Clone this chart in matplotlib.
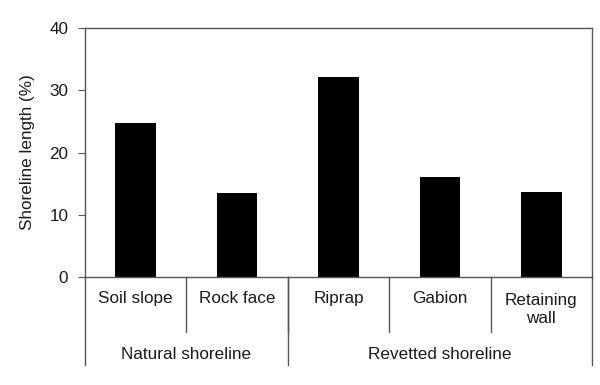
import numpy as np
import matplotlib.pyplot as plt
import matplotlib.transforms as mtransforms

plt.rcParams['font.family'] = ['Liberation Sans', 'DejaVu Sans']

categories = ['Soil slope', 'Rock face', 'Riprap', 'Gabion', 'Retaining\nwall']
values = [24.7, 13.5, 32.1, 16.1, 13.7]
groups = ['Natural shoreline', 'Revetted shoreline']
group_sizes = [2, 3]

edge = '#555555'
txt = '#1a1a1a'
fs = 12.3

fig = plt.figure(figsize=(6, 3.85), dpi=100)
ax = fig.add_axes([0.1417, 0.2805, 0.845, 0.6465])

x = np.arange(len(categories))
ax.bar(x, values, width=0.4, color='black')
ax.set_xlim(-0.5, len(categories) - 0.5)
ax.set_ylim(0, 40)
ax.set_yticks([0, 10, 20, 30, 40])
ax.set_xticks([])
ax.tick_params(axis='y', direction='out', length=5, color=edge, labelsize=fs,
               labelcolor=txt, pad=7)
for s in ax.spines.values():
    s.set_color(edge)
    s.set_linewidth(1.0)
ax.set_ylabel('Shoreline length (%)', fontsize=fs, color=txt, labelpad=10)

trans = mtransforms.blended_transform_factory(ax.transData, ax.transAxes)

# category labels and separators
for i, lab in enumerate(categories):
    ax.text(i, -0.085 if '\n' not in lab else -0.13, lab, transform=trans,
            ha='center', va='center', fontsize=fs, color=txt, linespacing=1.2)
for i in range(1, len(categories)):
    ax.plot([i - 0.5, i - 0.5], [0, -0.22], transform=trans, color=edge,
            lw=1.0, clip_on=False)

# group labels and separators
start = 0
bounds = [-0.5]
for g, n in zip(groups, group_sizes):
    mid = start + (n - 1) / 2
    ax.text(mid, -0.31, g, transform=trans, ha='center', va='center',
            fontsize=fs, color=txt)
    start += n
    bounds.append(start - 0.5)
for b in bounds:
    ax.plot([b, b], [0, -0.355], transform=trans, color=edge, lw=1.0, clip_on=False)

fig.savefig('out.png', dpi=100)
